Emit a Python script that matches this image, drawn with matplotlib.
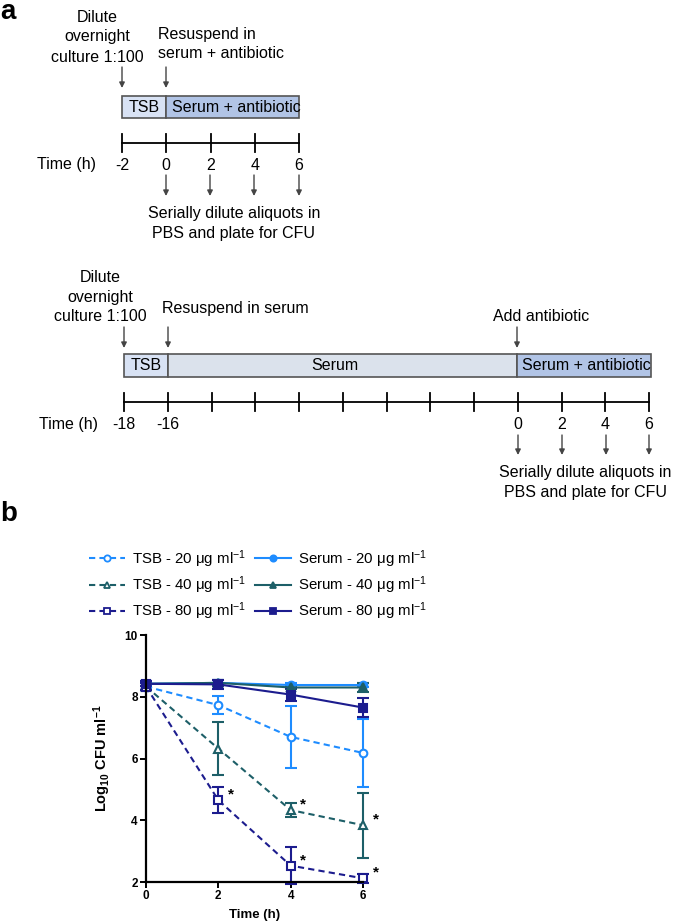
import matplotlib.pyplot as plt
from matplotlib.patches import Rectangle
from matplotlib.lines import Line2D

plt.rcParams['font.family'] = ['Liberation Sans', 'DejaVu Sans']
plt.rcParams['mathtext.default'] = 'regular'

# panel b data (log10 CFU/ml, mean and SD)
time = [0, 2, 4, 6]
tsb20 = [8.33, 7.73, 6.70, 6.18]
tsb20_sd = [0.10, 0.30, 1.00, 1.10]
tsb40 = [8.33, 6.32, 4.33, 3.84]
tsb40_sd = [0.10, 0.87, 0.22, 1.05]
tsb80 = [8.33, 4.65, 2.53, 2.12]
tsb80_sd = [0.10, 0.43, 0.60, 0.15]
serum20 = [8.42, 8.45, 8.38, 8.38]
serum20_sd = [0.08, 0.08, 0.05, 0.08]
serum40 = [8.42, 8.45, 8.30, 8.30]
serum40_sd = [0.08, 0.10, 0.05, 0.15]
serum80 = [8.42, 8.40, 8.07, 7.65]
serum80_sd = [0.08, 0.15, 0.20, 0.30]
# asterisks: (time, series)
stars = [(2, tsb80), (4, tsb80), (6, tsb80), (4, tsb40), (6, tsb40)]

c20 = '#1e8cff'
c40 = '#1d5f68'
c80 = '#1c1c8e'

# schematic labels
times_short = ['-2', '0', '2', '4', '6']
times_long = ['-18', '-16', '', '', '', '', '', '', '', '0', '2', '4', '6']

fig = plt.figure(figsize=(6.75, 9.22), dpi=100)

# ---------- panel a, drawn in pixel coordinates ----------
sk = fig.add_axes([0, 0, 1, 1])
sk.set_xlim(0, 675)
sk.set_ylim(922, 0)
sk.axis('off')

fs = 11.5
edge = '#555555'
c_tsb = '#d8e2f4'
c_serum = '#dbe2ec'
c_abx = '#b1c4e6'


def arrow(x, y0, y1):
    sk.annotate('', xy=(x, y1), xytext=(x, y0),
                arrowprops=dict(arrowstyle='-|>', color='#444444', lw=1,
                                mutation_scale=8, shrinkA=0, shrinkB=0))


def lines(x, ys, txt, ha='center'):
    for y, t in zip(ys, txt):
        sk.text(x, y, t, ha=ha, va='center', fontsize=fs)


def box(x0, x1, y0, y1, color, label, tx, ha='center'):
    r = Rectangle((x0, y0), x1 - x0, y1 - y0, facecolor=color, edgecolor=edge, lw=1.2)
    sk.add_patch(r)
    t = sk.text(tx, (y0 + y1) / 2, label, ha=ha, va='center', fontsize=fs)
    t.set_clip_path(r)


def timeline(x0, x1, y, labels):
    sk.plot([x0, x1], [y, y], color='black', lw=1.3)
    n = len(labels)
    for i, lab in enumerate(labels):
        x = x0 + (x1 - x0) * i / (n - 1)
        sk.plot([x, x], [y - 9, y + 9], color='black', lw=1.3)
        if lab:
            sk.text(x, y + 22, lab, ha='center', va='center', fontsize=fs)
    sk.text(x0 - 26, y + 22, 'Time (h)', ha='right', va='center', fontsize=fs)


sk.text(0, 12, 'a', fontsize=20, fontweight='bold', va='center', ha='left')
sk.text(0, 514, 'b', fontsize=20, fontweight='bold', va='center', ha='left')

# top schematic
lines(97, [17, 37, 57], ['Dilute', 'overnight', 'culture 1:100'])
lines(158, [34, 54], ['Resuspend in', 'serum + antibiotic'], ha='left')
arrow(122, 67, 88)
arrow(166, 67, 88)
box(122, 166, 96, 118, c_tsb, 'TSB', 144)
box(166, 299, 96, 118, c_abx, 'Serum + antibiotic', 172, ha='left')
timeline(122, 299, 143, times_short)
for x in [166, 210, 254, 299]:
    arrow(x, 175, 196)
lines(234, [213, 233], ['Serially dilute aliquots in', 'PBS and plate for CFU'])

# bottom schematic
lines(100, [277, 297, 316], ['Dilute', 'overnight', 'culture 1:100'])
lines(162, [308], ['Resuspend in serum'], ha='left')
lines(541, [316], ['Add antibiotic'])
for x in [124, 168, 517]:
    arrow(x, 327, 348)
box(124, 168, 354, 377, c_tsb, 'TSB', 146)
box(168, 517, 354, 377, c_serum, 'Serum', 335)
box(517, 651, 354, 377, c_abx, 'Serum + antibiotic', 522, ha='left')
timeline(124, 649, 402, times_long)
for x in [518, 562, 606, 649]:
    arrow(x, 435, 455)
lines(585, [472, 492], ['Serially dilute aliquots in', 'PBS and plate for CFU'])

# ---------- panel b ----------
ax = fig.add_axes([146 / 675, 40 / 922, 217 / 675, 247 / 922])
kw = dict(capsize=4, elinewidth=1.5, capthick=1.5, lw=1.5, clip_on=False, markersize=5.5)
dash = (0, (3, 2))
series = [
    (tsb20, tsb20_sd, c20, dash, 'o', 'white', 'TSB - 20 μg ml$^{-1}$'),
    (tsb40, tsb40_sd, c40, dash, '^', 'white', 'TSB - 40 μg ml$^{-1}$'),
    (tsb80, tsb80_sd, c80, dash, 's', 'white', 'TSB - 80 μg ml$^{-1}$'),
    (serum20, serum20_sd, c20, '-', 'o', None, 'Serum - 20 μg ml$^{-1}$'),
    (serum40, serum40_sd, c40, '-', '^', None, 'Serum - 40 μg ml$^{-1}$'),
    (serum80, serum80_sd, c80, '-', 's', None, 'Serum - 80 μg ml$^{-1}$'),
]
handles = []
for y, sd, c, ls, m, mfc, lab in series:
    ax.errorbar(time, y, yerr=sd, color=c, ls=ls, marker=m, mfc=mfc or c, mew=1.5, **kw)
    handles.append(Line2D([], [], color=c, ls=ls, lw=1.5, marker=m, mfc=mfc or c,
                          mew=1.3, markersize=4.5 if m != '^' else 4, label=lab))
for t, s in stars:
    ax.annotate('*', (t, s[time.index(t)]), xytext=(7, 4), textcoords='offset points',
                fontsize=11, fontweight='bold', ha='left', va='center')

ax.set_xlim(0, 6)
ax.set_ylim(2, 10)
ax.set_xticks([0, 2, 4, 6])
ax.set_yticks([2, 4, 6, 8, 10])
for s in ['top', 'right']:
    ax.spines[s].set_visible(False)
for s in ['left', 'bottom']:
    ax.spines[s].set_linewidth(1.6)
ax.tick_params(width=1.4, length=4, labelsize=8.5, pad=2)
for lab in ax.get_xticklabels() + ax.get_yticklabels():
    lab.set_fontweight('bold')
ax.set_xlabel('Time (h)', fontsize=9.5, fontweight='bold', labelpad=5)
ax.set_ylabel('Log$_{10}$ CFU ml$^{-1}$', fontsize=10.5, fontweight='bold', labelpad=8)

fig.legend(handles=handles, ncol=2, loc='center left', bbox_to_anchor=(75 / 675, 1 - 585 / 922),
           frameon=False, fontsize=10.8, handlelength=2.4, numpoints=1,
           columnspacing=0.6, labelspacing=0.3, handletextpad=0.5)

fig.savefig('out.png', dpi=100)
